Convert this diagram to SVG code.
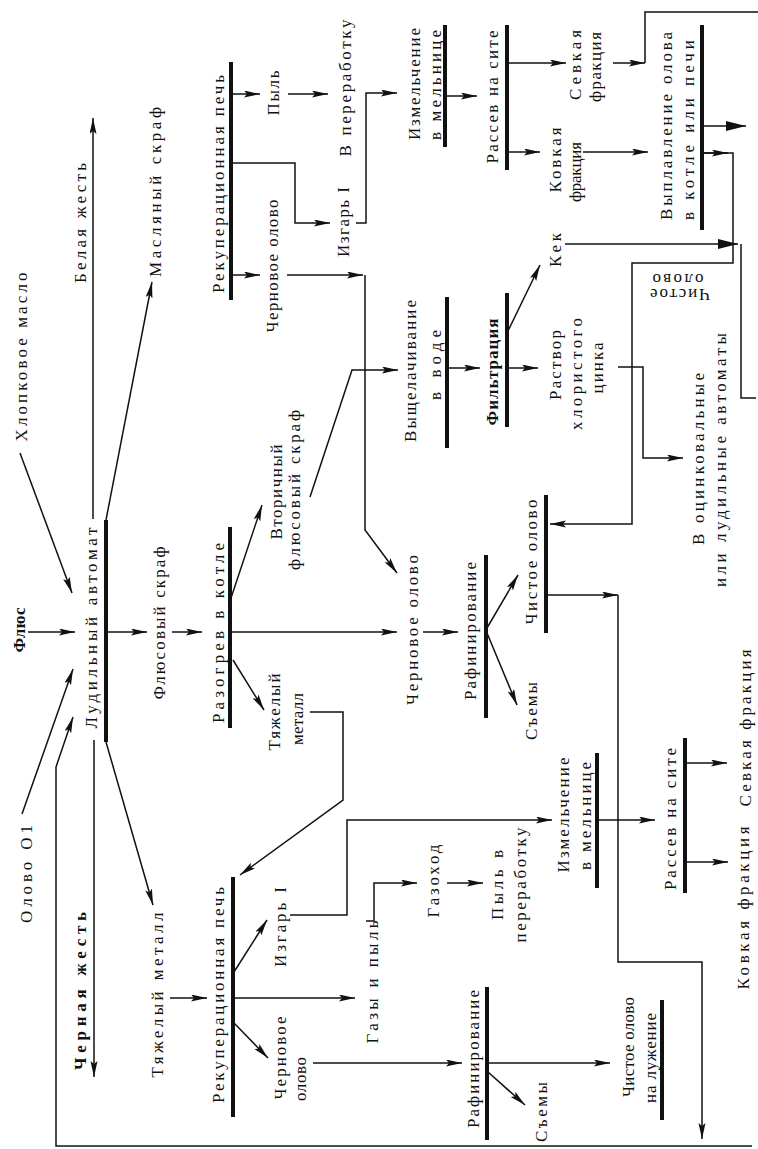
<svg xmlns="http://www.w3.org/2000/svg" width="758" height="1149" viewBox="0 0 758 1149">
<style>
.t{font-family:"Liberation Serif","Times New Roman",serif;font-size:17px;fill:#111;text-anchor:middle;dominant-baseline:central}
.b{font-weight:bold}
.c{fill:none;stroke:#111;stroke-width:1.5}
.bar{stroke:#111;stroke-width:4}
</style>
<defs>
<marker id="a" markerUnits="userSpaceOnUse" markerWidth="17" markerHeight="8" refX="16" refY="3.5" orient="auto"><path d="M0,0 L16,3.5 L0,7 L3,3.5 z" fill="#111"/></marker>
<marker id="ab" markerUnits="userSpaceOnUse" markerWidth="22" markerHeight="10" refX="20" refY="5" orient="auto"><path d="M0,0 L20,5 L0,10 z" fill="#111"/></marker>
</defs>
<rect width="758" height="1149" fill="#fff"/>
<g id="connectors">
<path class="c" d="M22,814 L73,669" marker-end="url(#a)"/>
<path class="c" d="M752,1146 H56 V767 L73,717" marker-end="url(#a)"/>
<path class="c" d="M28,632 H75" marker-end="url(#a)"/>
<path class="c" d="M20,453 L72,593" marker-end="url(#a)"/>
<path class="c" d="M93,519 V118" marker-end="url(#a)"/>
<path class="c" d="M106,520 L152,282" marker-end="url(#a)"/>
<path class="c" d="M94,740 V1077" marker-end="url(#a)"/>
<path class="c" d="M106,742 L153,905" marker-end="url(#a)"/>
<path class="c" d="M107,632 H147" marker-end="url(#a)"/>
<path class="c" d="M172,632 H202" marker-end="url(#a)"/>
<path class="c" d="M231,598 L262,505" marker-end="url(#a)"/>
<path class="c" d="M233,660 L264,710" marker-end="url(#a)"/>
<path class="c" d="M231,632 H397" marker-end="url(#a)"/>
<path class="c" d="M310,497 L352,370 H398" marker-end="url(#a)"/>
<path class="c" d="M310,712 H343 V800 L240,875" marker-end="url(#a)"/>
<path class="c" d="M232,94 H260" marker-end="url(#a)"/>
<path class="c" d="M288,94 H328" marker-end="url(#a)"/>
<path class="c" d="M232,163 H295 V223 H330" marker-end="url(#a)"/>
<path class="c" d="M232,275 H260" marker-end="url(#a)"/>
<path class="c" d="M287,275 H363" marker-end="url(#a)"/>
<path class="c" d="M365,275 V530 L397,573" marker-end="url(#a)"/>
<path class="c" d="M356,223 H366 V93 H397" marker-end="url(#a)"/>
<path class="c" d="M445,96 H477" marker-end="url(#a)"/>
<path class="c" d="M507,63 H566" marker-end="url(#a)"/>
<path class="c" d="M507,152 H540" marker-end="url(#a)"/>
<path class="c" d="M613,63 H645" marker-end="url(#a)"/>
<path class="c" d="M645,63 V12 H758"/>
<path class="c" d="M583,152 H648" marker-end="url(#a)"/>
<path class="c" d="M702,126 H746" stroke-width="2.5" marker-end="url(#ab)"/>
<path class="c" d="M702,153 H728" marker-end="url(#a)"/>
<path class="c" d="M702,153 H733 V263 H632 V524 H550" marker-end="url(#a)"/>
<path class="c" d="M565,244 H738" marker-end="url(#ab)"/>
<path class="c" d="M741,244 V398 H756"/>
<path class="c" d="M447,368 H480" marker-end="url(#a)"/>
<path class="c" d="M507,368 H538" marker-end="url(#a)"/>
<path class="c" d="M508,331 L540,265" marker-end="url(#a)"/>
<path class="c" d="M618,367 H643 V458 H683" marker-end="url(#a)"/>
<path class="c" d="M423,632 H458" marker-end="url(#a)"/>
<path class="c" d="M487,628 L518,575" marker-end="url(#a)"/>
<path class="c" d="M487,633 L517,705" marker-end="url(#a)"/>
<path class="c" d="M546,595 H618" marker-end="url(#a)"/>
<path class="c" d="M618,595 V962 H702 V1139" marker-end="url(#a)"/>
<path class="c" d="M170,998 H207" marker-end="url(#a)"/>
<path class="c" d="M234,972 L267,920" marker-end="url(#a)"/>
<path class="c" d="M234,998 H355" marker-end="url(#a)"/>
<path class="c" d="M234,1023 L268,1058" marker-end="url(#a)"/>
<path class="c" d="M290,915 H347 V820 H552" marker-end="url(#a)"/>
<path class="c" d="M366,921 H374 V883 H417" marker-end="url(#a)"/>
<path class="c" d="M447,883 H483" marker-end="url(#a)"/>
<path class="c" d="M313,1063 H462" marker-end="url(#a)"/>
<path class="c" d="M487,1063 H610" marker-end="url(#a)"/>
<path class="c" d="M488,1072 L525,1105" marker-end="url(#a)"/>
<path class="c" d="M598,820 H655" marker-end="url(#a)"/>
<path class="c" d="M685,763 H727" marker-end="url(#a)"/>
<path class="c" d="M685,862 H728" marker-end="url(#a)"/>
</g>
<g id="label-return">
<text class="t" transform="translate(680,294) rotate(180)" textLength="60">Чистое</text>
<text class="t" transform="translate(678,279) rotate(180)" textLength="51">олово</text>
</g>
<g id="n-olovo-o1"><text class="t" transform="translate(26,874) rotate(-90)" textLength="98">Олово О1</text></g>
<g id="n-flux"><text class="t b" transform="translate(19,630) rotate(-90)" textLength="45">Флюс</text></g>
<g id="n-cotton"><text class="t" transform="translate(21,357) rotate(-90)" textLength="169">Хлопковое масло</text></g>
<g id="n-tinning"><line class="bar" x1="106" y1="520" x2="106" y2="742"/><text class="t" transform="translate(91,628) rotate(-90)" textLength="201">Лудильный автомат</text></g>
<g id="n-white"><text class="t" transform="translate(80,223) rotate(-90)" textLength="120">Белая жесть</text></g>
<g id="n-black"><text class="t b" transform="translate(80,991) rotate(-90)" textLength="158">Черная жесть</text></g>
<g id="n-oil-scrap"><text class="t" transform="translate(155,192) rotate(-90)" textLength="170">Масляный скраф</text></g>
<g id="n-flux-scrap"><text class="t" transform="translate(159,623) rotate(-90)" textLength="153">Флюсовый скраф</text></g>
<g id="n-heavy-1"><text class="t" transform="translate(157,995) rotate(-90)" textLength="165">Тяжелый металл</text></g>
<g id="n-heating"><line class="bar" x1="230" y1="527" x2="230" y2="728"/><text class="t" transform="translate(218,633) rotate(-90)" textLength="180">Разогрев в котле</text></g>
<g id="n-secondary"><text class="t" transform="translate(276,492) rotate(-90)" textLength="95">Вторичный</text><text class="t" transform="translate(294,490) rotate(-90)" textLength="160">флюсовый скраф</text></g>
<g id="n-heavy-2"><text class="t" transform="translate(274,712) rotate(-90)" textLength="77">Тяжелый</text><text class="t" transform="translate(297,719) rotate(-90)" textLength="52">металл</text></g>
<g id="n-recup-1"><line class="bar" x1="231" y1="62" x2="231" y2="300"/><text class="t" transform="translate(218,184) rotate(-90)" textLength="218">Рекуперационная печь</text></g>
<g id="n-dust-1"><text class="t" transform="translate(273,93) rotate(-90)" textLength="45">Пыль</text></g>
<g id="n-crude-1"><text class="t" transform="translate(272,266) rotate(-90)" textLength="133">Черновое олово</text></g>
<g id="n-recycle-1"><text class="t" transform="translate(345,88) rotate(-90)" textLength="137">В переработку</text></g>
<g id="n-dross-1"><text class="t" transform="translate(343,222) rotate(-90)" textLength="70">Изгарь I</text></g>
<g id="n-mill-1"><line class="bar" x1="445" y1="25" x2="445" y2="147"/><text class="t" transform="translate(414,84) rotate(-90)" textLength="112">Измельчение</text><text class="t" transform="translate(435,85) rotate(-90)" textLength="110">в мельнице</text></g>
<g id="n-sieve-1"><line class="bar" x1="507" y1="25" x2="507" y2="170"/><text class="t" transform="translate(492,97) rotate(-90)" textLength="133">Рассев на сите</text></g>
<g id="n-fine-1"><text class="t" transform="translate(575,65) rotate(-90)" textLength="70">Севкая</text><text class="t" transform="translate(595,67) rotate(-90)" textLength="70">фракция</text></g>
<g id="n-coarse-1"><text class="t" transform="translate(555,160) rotate(-90)" textLength="65">Ковкая</text><text class="t" transform="translate(575,172) rotate(-90)" textLength="60">фракция</text></g>
<g id="n-smelt"><line class="bar" x1="702" y1="25" x2="702" y2="230"/><text class="t" transform="translate(666,126) rotate(-90)" textLength="188">Выплавление олова</text><text class="t" transform="translate(688,130) rotate(-90)" textLength="180">в котле или печи</text></g>
<g id="n-cake"><text class="t" transform="translate(555,250) rotate(-90)" textLength="34">Кек</text></g>
<g id="n-leach"><line class="bar" x1="447" y1="297" x2="447" y2="448"/><text class="t" transform="translate(410,371) rotate(-90)" textLength="142">Выщелачивание</text><text class="t" transform="translate(435,365) rotate(-90)" textLength="70">в воде</text></g>
<g id="n-filter"><line class="bar" x1="507" y1="293" x2="507" y2="427"/><text class="t b" transform="translate(492,372) rotate(-90)" textLength="107">Фильтрация</text></g>
<g id="n-solution"><text class="t" transform="translate(555,365) rotate(-90)" textLength="70">Раствор</text><text class="t" transform="translate(576,374) rotate(-90)" textLength="112">хлористого</text><text class="t" transform="translate(597,368) rotate(-90)" textLength="51">цинка</text></g>
<g id="n-machines"><text class="t" transform="translate(698,459) rotate(-90)" textLength="172">В оцинковальные</text><text class="t" transform="translate(720,460) rotate(-90)" textLength="254">или лудильные автоматы</text></g>
<g id="n-crude-2"><text class="t" transform="translate(412,630) rotate(-90)" textLength="150">Черновое олово</text></g>
<g id="n-refine-1"><line class="bar" x1="486" y1="555" x2="486" y2="718"/><text class="t" transform="translate(470,631) rotate(-90)" textLength="138">Рафинирование</text></g>
<g id="n-pure-1"><line class="bar" x1="546" y1="495" x2="546" y2="633"/><text class="t" transform="translate(531,562) rotate(-90)" textLength="125">Чистое олово</text></g>
<g id="n-skim-1"><text class="t" transform="translate(531,711) rotate(-90)" textLength="58">Съемы</text></g>
<g id="n-recup-2"><line class="bar" x1="233" y1="877" x2="233" y2="1117"/><text class="t" transform="translate(218,995) rotate(-90)" textLength="216">Рекуперационная печь</text></g>
<g id="n-dross-2"><text class="t" transform="translate(280,927) rotate(-90)" textLength="80">Изгарь I</text></g>
<g id="n-gases"><text class="t" transform="translate(372,982) rotate(-90)" textLength="123">Газы и пыль</text></g>
<g id="n-flue"><text class="t" transform="translate(433,881) rotate(-90)" textLength="73">Газоход</text></g>
<g id="n-dust-2"><text class="t" transform="translate(497,885) rotate(-90)" textLength="70">Пыль в</text><text class="t" transform="translate(520,885) rotate(-90)" textLength="115">переработку</text></g>
<g id="n-crude-3"><text class="t" transform="translate(280,1058) rotate(-90)" textLength="83">Черновое</text><text class="t" transform="translate(300,1079) rotate(-90)" textLength="44">олово</text></g>
<g id="n-mill-2"><line class="bar" x1="597" y1="753" x2="597" y2="888"/><text class="t" transform="translate(563,815) rotate(-90)" textLength="115">Измельчение</text><text class="t" transform="translate(585,816) rotate(-90)" textLength="108">в мельнице</text></g>
<g id="n-sieve-2"><line class="bar" x1="685" y1="738" x2="685" y2="893"/><text class="t" transform="translate(670,819) rotate(-90)" textLength="142">Рассев на сите</text></g>
<g id="n-fine-2"><text class="t" transform="translate(745,728) rotate(-90)" textLength="157">Севкая фракция</text></g>
<g id="n-coarse-2"><text class="t" transform="translate(743,908) rotate(-90)" textLength="163">Ковкая фракция</text></g>
<g id="n-refine-2"><line class="bar" x1="487" y1="987" x2="487" y2="1140"/><text class="t" transform="translate(473,1059) rotate(-90)" textLength="138">Рафинирование</text></g>
<g id="n-skim-2"><text class="t" transform="translate(541,1112) rotate(-90)" textLength="60">Съемы</text></g>
<g id="n-pure-2"><line class="bar" x1="662" y1="1000" x2="662" y2="1120"/><text class="t" transform="translate(628,1047) rotate(-90)" textLength="100">Чистое олово</text><text class="t" transform="translate(650,1058) rotate(-90)" textLength="90">на лужение</text></g>
</svg>
